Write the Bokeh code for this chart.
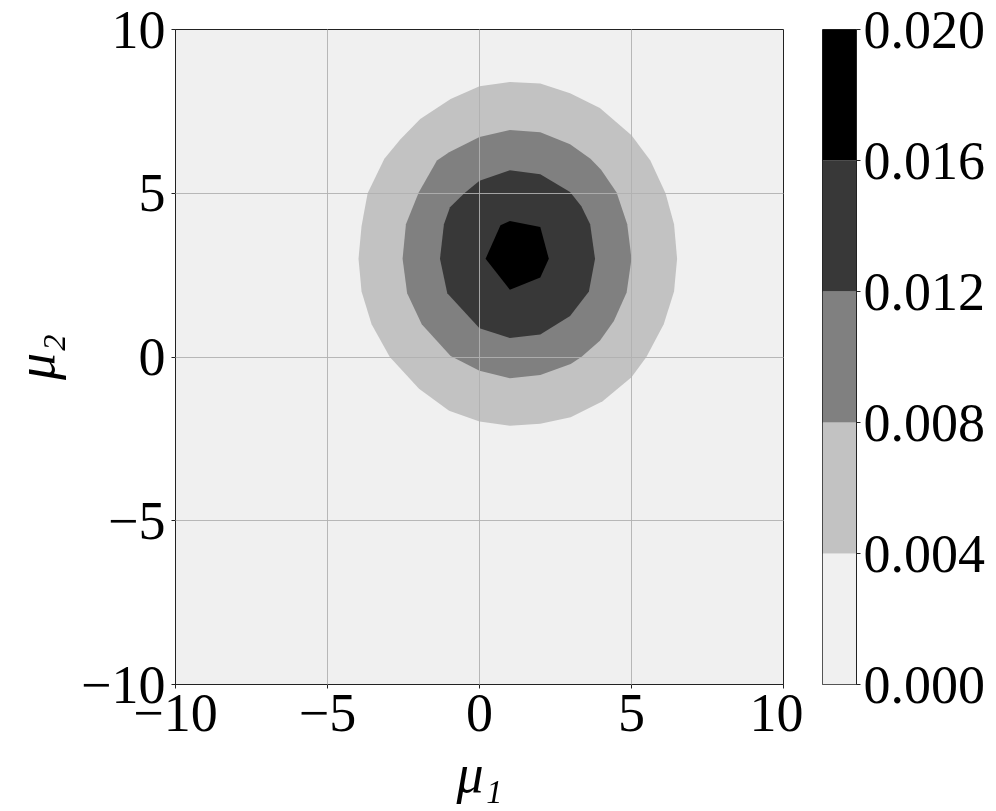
from bokeh.plotting import figure
from bokeh.layouts import row
from bokeh.models import FixedTicker
from bokeh.embed import file_html
from bokeh.resources import INLINE

# ---------------- data ----------------
x_ticks = [-10, -5, 0, 5, 10]
x_tick_labels = ["\u221210", "\u22125", "0", "5", "10"]
y_ticks = [-10, -5, 0, 5, 10]
y_tick_labels = ["\u221210", "\u22125", "0", "5", "10"]

levels = [0.000, 0.004, 0.008, 0.012, 0.016, 0.020]
level_labels = ["0.000", "0.004", "0.008", "0.012", "0.016", "0.020"]
level_colors = ["#f0f0f0", "#c2c2c2", "#808080", "#383838", "#000000"]

# contour region density >= 0.004
c004_x = [1.0, 0.0, -0.95, -1.95, -2.6, -3.13, -3.68, -3.88, -3.98, -3.88, -3.55, -2.95,
          -1.99, -1.0, 0.0, 1.0, 2.0, 3.0, 4.05, 5.0, 5.49, 6.06, 6.4, 6.5, 6.4, 6.12,
          5.62, 5.0, 3.96, 2.98, 2.0]
c004_y = [8.40, 8.27, 7.88, 7.27, 6.65, 6.05, 5.0, 4.0, 3.0, 2.0, 1.0, 0.0,
          -0.97, -1.64, -1.97, -2.10, -2.04, -1.84, -1.35, -0.62, 0.0, 1.0, 2.0, 3.0, 4.05, 5.0,
          6.0, 6.77, 7.60, 8.05, 8.35]
# density >= 0.008
c008_x = [1.0, 0.0, -1.0, -1.4, -2.0, -2.42, -2.53, -2.38, -1.9, -0.95, 0.0, 1.0, 2.0,
          3.0, 3.35, 3.96, 4.42, 4.84, 5.0, 4.86, 4.51, 4.0, 3.65, 2.98, 2.0]
c008_y = [6.93, 6.72, 6.25, 6.0, 5.02, 4.05, 3.0, 1.95, 1.0, 0.03, -0.42, -0.65, -0.55,
          -0.21, 0.0, 0.5, 1.1, 1.97, 3.0, 4.05, 5.02, 5.72, 6.05, 6.5, 6.86]
# density >= 0.012
c012_x = [1.0, 0.0, -0.5, -0.97, -1.17, -1.3, -1.06, 0.0, 1.0, 2.0, 2.98, 3.6, 3.8,
          3.64, 3.35, 2.98, 2.0]
c012_y = [5.70, 5.38, 5.0, 4.57, 4.05, 3.0, 1.95, 0.88, 0.58, 0.69, 1.25, 2.0, 3.0,
          4.05, 4.6, 5.04, 5.58]
# density >= 0.016
c016_x = [1.0, 2.0, 2.28, 2.0, 1.0, 0.2, 0.69]
c016_y = [4.15, 3.97, 3.0, 2.43, 2.05, 3.0, 4.02]

x_lo, x_hi = -10, 10
y_lo, y_hi = -10, 10

FONT = "Liberation Serif"
TICK_SIZE = "54px"
LABEL_SIZE = "54px"

# ---------------- main plot ----------------
p = figure(x_range=(x_lo, x_hi), y_range=(y_lo, y_hi),
           frame_width=608, frame_height=655,
           min_border_left=175, min_border_top=29, min_border_right=20, min_border_bottom=100,
           output_backend="svg", toolbar_location=None)
p.background_fill_color = level_colors[0]
p.border_fill_color = "white"
p.outline_line_color = "#222222"
p.outline_line_width = 1

p.patches(xs=[c004_x, c008_x, c012_x, c016_x],
          ys=[c004_y, c008_y, c012_y, c016_y],
          fill_color=level_colors[1:], line_color=None)

for ax, ticks, labels in ((p.xaxis, x_ticks, x_tick_labels), (p.yaxis, y_ticks, y_tick_labels)):
    ax.ticker = FixedTicker(ticks=ticks)
    ax.major_label_overrides = dict(zip(ticks, labels))
    ax.minor_tick_line_color = None
    ax.major_tick_in = 0
    ax.major_tick_out = 4
    ax.major_tick_line_color = "#222222"
    ax.axis_line_color = "#222222"
    ax.major_label_text_font = FONT
    ax.major_label_text_font_size = TICK_SIZE
    ax.major_label_text_color = "black"
    ax.axis_label_text_font = FONT
    ax.axis_label_text_font_size = LABEL_SIZE
    ax.axis_label_text_font_style = "italic"
    ax.axis_label_text_color = "black"
    ax.major_label_standoff = 6

p.xaxis.axis_label = "\u03bc\u2081"
p.yaxis.axis_label = "\u03bc\u2082"
p.xaxis.axis_label_standoff = 10
p.yaxis.axis_label_standoff = 12

p.xgrid.ticker = FixedTicker(ticks=x_ticks)
p.ygrid.ticker = FixedTicker(ticks=y_ticks)
p.grid.grid_line_color = "#b0b0b0"
p.grid.grid_line_width = 1
p.grid.grid_line_alpha = 0.9
p.xgrid.level = "overlay"
p.ygrid.level = "overlay"

# ---------------- colorbar ----------------
c = figure(x_range=(0, 1), y_range=(levels[0], levels[-1]),
           frame_width=34, frame_height=655,
           x_axis_location=None, y_axis_location="right",
           min_border_left=19, min_border_top=29, min_border_right=4, min_border_bottom=100,
           output_backend="svg", toolbar_location=None)
c.quad(left=0, right=1, bottom=levels[:-1], top=levels[1:],
       fill_color=level_colors, line_color=None)
c.grid.visible = False
c.outline_line_color = "#222222"
c.outline_line_width = 1
c.border_fill_color = "white"
ay = c.yaxis[0]
ay.ticker = FixedTicker(ticks=levels)
ay.major_label_overrides = dict(zip(levels, level_labels))
ay.minor_tick_line_color = None
ay.major_tick_in = 0
ay.major_tick_out = 4
ay.major_tick_line_color = "#222222"
ay.axis_line_color = "#222222"
ay.major_label_text_font = FONT
ay.major_label_text_font_size = TICK_SIZE
ay.major_label_text_color = "black"
ay.major_label_standoff = 3

layout = row(p, c)
open("out.html", "w").write(file_html(layout, INLINE))
